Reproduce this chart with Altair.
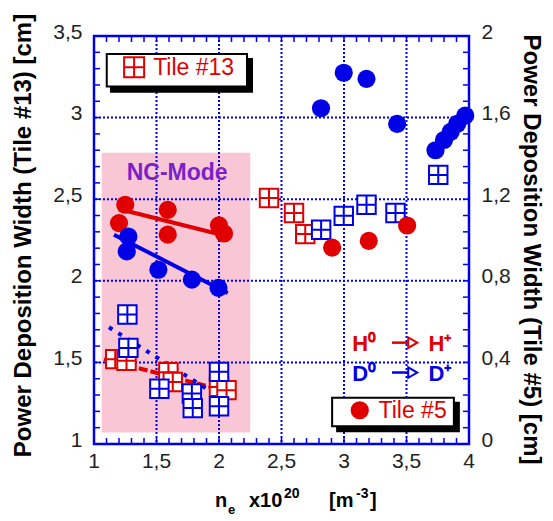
import altair as alt
import numpy as np
import pandas as pd

BLUE = "#0000e6"
RED = "#e00000"
PURPLE = "#7a22c8"
PINK = "#f9c6d5"
FONT = "Liberation Sans, Arial, sans-serif"

# ---------------- data ----------------
# Tile #13 (left axis, cm) - open grid squares
h13_x = [1.17, 1.26, 1.595, 1.63, 2.00, 2.06, 2.40, 2.60, 2.69]
h13_y = [1.52, 1.51, 1.44, 1.38, 1.35, 1.33, 2.507, 2.415, 2.286]
d13_x = [1.267, 1.275, 1.523, 1.783, 1.79, 2.0, 2.0, 2.817, 2.998, 3.18, 3.412, 3.754]
d13_y = [1.793, 1.589, 1.338, 1.31, 1.22, 1.442, 1.231, 2.313, 2.398, 2.466, 2.415, 2.649]

# Tile #5 (right axis, cm) - filled circles
h5_x = [1.20, 1.25, 1.59, 1.59, 2.00, 2.04, 2.905, 3.198, 3.505]
h5_y = [1.083, 1.173, 1.148, 1.026, 1.072, 1.032, 0.963, 0.996, 1.071]
d5_x = [1.262, 1.275, 1.515, 1.783, 1.996, 2.816, 2.998, 3.18, 3.425, 3.732, 3.80, 3.853, 3.906, 3.97]
d5_y = [0.944, 1.017, 0.854, 0.806, 0.765, 1.646, 1.82, 1.79, 1.569, 1.44, 1.49, 1.53, 1.57, 1.61]

# fit lines in NC-mode
h5_fit_x, h5_fit_y = [1.20, 2.05], [1.152, 1.021]
d5_fit_x, d5_fit_y = [1.16, 2.07], [1.026, 0.74]
h13_fit_x, h13_fit_y = [1.08, 2.13], [1.52, 1.31]
d13_fit_x, d13_fit_y = [1.12, 1.92], [1.715, 1.33]

# NC-mode region
nc_x, nc_x2, nc_y, nc_y2 = [1.062], [2.25], [1.07], [2.784]

# tick labels
x_ticks = [1, 1.5, 2, 2.5, 3, 3.5, 4]
x_labels = ["1", "1,5", "2", "2,5", "3", "3,5", "4"]
yl_ticks = [1, 1.5, 2, 2.5, 3, 3.5]
yr_ticks = [0, 0.4, 0.8, 1.2, 1.6, 2]
x_grid = [1.5, 2, 2.5, 3, 3.5]
y_grid = [1.5, 2, 2.5, 3]
x_minor = [float(v) for v in np.round(np.arange(1.1, 4.0, 0.1), 2)]
y_minor = [float(v) for v in np.round(np.arange(1.1, 3.5, 0.1), 2)]

W, H = 375, 408
xs = alt.Scale(domain=[1, 4], nice=False, zero=False)
yl = alt.Scale(domain=[1, 3.5], nice=False, zero=False)
yr = alt.Scale(domain=[0, 2], nice=False, zero=False)

LBL = "replace(toString(datum.value), '.', ',')"

yl_axis = alt.Axis(values=yl_ticks, labelExpr=LBL, labelFont=FONT, labelFontSize=21,
                   labelColor="#222", labelPadding=12, labelOffset=-4, labelFlush=False, orient="left",
                   title="Power Deposition Width (Tile #13) [cm]", titleFont=FONT, titleFontSize=24,
                   titleFontWeight="bold", titleColor="black", titleX=-71, titleY=199, titleAngle=270,
                   titleBaseline="middle", titleAlign="center", grid=False, ticks=False, domain=False)
yr_axis = alt.Axis(values=yr_ticks, labelExpr=LBL, labelFont=FONT, labelFontSize=21,
                   labelColor="#222", labelPadding=12, labelOffset=-4, labelFlush=False, orient="right",
                   title="Power Deposition Width (Tile #5) [cm]", titleFont=FONT, titleFontSize=24,
                   titleFontWeight="bold", titleColor="black", titleX=61, titleY=213, titleAngle=90,
                   titleBaseline="middle", titleAlign="center", grid=False, ticks=False, domain=False)


def X(field="x"):
    return alt.X(f"{field}:Q", scale=xs, axis=None)


def YL(field="y"):
    return alt.Y(f"{field}:Q", scale=yl, axis=None)


def YR(field="y"):
    return alt.Y(f"{field}:Q", scale=yr, axis=None)


# ---------------- layers ----------------
nc_df = pd.DataFrame({"x": nc_x, "x2": nc_x2, "y": nc_y, "y2": nc_y2})
nc_rect = alt.Chart(nc_df).mark_rect(fill=PINK).encode(
    x=X(), x2="x2:Q", y=alt.Y("y:Q", scale=yl, axis=yl_axis), y2="y2:Q")

# x tick labels (text through the x scale)
xlab = alt.Chart(pd.DataFrame({"x": x_ticks, "t": x_labels})).mark_text(
    font=FONT, fontSize=21, color="#222", baseline="middle", align="center").encode(
    x=X(), y=alt.value(H + 18), text="t:N")


# x title "n_e x10^20 [m^-3]" composed of pieces
def title_piece(txt, px, py, size):
    return alt.Chart(pd.DataFrame({"t": [txt]})).mark_text(
        font=FONT, fontSize=size, fontWeight="bold", color="black", baseline="middle", align="left").encode(
        x=alt.value(px), y=alt.value(py), text="t:N")


xtitle = [
    title_piece("n", 121, H + 57, 20),
    title_piece("e", 134, H + 66, 13),
    title_piece("x10", 155, H + 57, 20),
    title_piece("20", 190, H + 50, 14),
    title_piece("[m", 235, H + 57, 20),
    title_piece("-3", 262, H + 50, 14),
    title_piece("]", 276, H + 57, 20),
]

vgrid = alt.Chart(pd.DataFrame({"x": x_grid})).mark_rule(
    stroke=BLUE, strokeWidth=2, strokeDash=[2, 2]).encode(x=X())
hgrid = alt.Chart(pd.DataFrame({"y": y_grid})).mark_rule(
    stroke=BLUE, strokeWidth=2, strokeDash=[2, 2]).encode(y=YL())

xm = pd.DataFrame({"x": x_minor})
ym = pd.DataFrame({"y": y_minor})
tick_bottom = alt.Chart(xm).mark_rule(stroke=BLUE, strokeWidth=1.5).encode(
    x=X(), y=alt.value(H - 6), y2=alt.value(H))
tick_top = alt.Chart(xm).mark_rule(stroke=BLUE, strokeWidth=1.5).encode(
    x=X(), y=alt.value(0), y2=alt.value(6))
tick_left = alt.Chart(ym).mark_rule(stroke=BLUE, strokeWidth=1.5).encode(
    y=YL(), x=alt.value(0), x2=alt.value(6))
tick_right = alt.Chart(ym).mark_rule(stroke=BLUE, strokeWidth=1.5).encode(
    y=YL(), x=alt.value(W - 6), x2=alt.value(W))

h13_line = alt.Chart(pd.DataFrame({"x": h13_fit_x, "y": h13_fit_y})).mark_line(
    color=RED, strokeWidth=4, strokeDash=[9, 3]).encode(x=X(), y=YL())
d13_line = alt.Chart(pd.DataFrame({"x": d13_fit_x, "y": d13_fit_y})).mark_line(
    color=BLUE, strokeWidth=4, strokeDash=[4, 7]).encode(x=X(), y=YL())

SQ = "M-1,-1H1V1H-1ZM-1,0H1M0,-1V1"
h13_pts = alt.Chart(pd.DataFrame({"x": h13_x, "y": h13_y})).mark_point(
    shape=SQ, size=340, filled=True, fill="white", stroke=RED, strokeWidth=2, opacity=1).encode(x=X(), y=YL())
d13_pts = alt.Chart(pd.DataFrame({"x": d13_x, "y": d13_y})).mark_point(
    shape=SQ, size=340, filled=True, fill="white", stroke=BLUE, strokeWidth=2, opacity=1).encode(x=X(), y=YL())

h5_line = alt.Chart(pd.DataFrame({"x": h5_fit_x, "y": h5_fit_y})).mark_line(
    color=RED, strokeWidth=4).encode(x=X(), y=alt.Y("y:Q", scale=yr, axis=yr_axis))
d5_line = alt.Chart(pd.DataFrame({"x": d5_fit_x, "y": d5_fit_y})).mark_line(
    color=BLUE, strokeWidth=4).encode(x=X(), y=YR())
h5_pts = alt.Chart(pd.DataFrame({"x": h5_x, "y": h5_y})).mark_point(
    shape="circle", size=330, filled=True, color=RED, opacity=1).encode(x=X(), y=YR())
d5_pts = alt.Chart(pd.DataFrame({"x": d5_x, "y": d5_y})).mark_point(
    shape="circle", size=330, filled=True, color=BLUE, opacity=1).encode(x=X(), y=YR())

# legend boxes (in data units of the left axis)
shadow_df = pd.DataFrame({"x": [1.136, 2.945], "x2": [2.264, 3.919], "y": [3.159, 1.078], "y2": [3.359, 1.252]})
box_df = pd.DataFrame({"x": [1.102, 2.905], "x2": [2.224, 3.879], "y": [3.190, 1.109], "y2": [3.390, 1.283]})
shadows = alt.Chart(shadow_df).mark_rect(fill="black", stroke="black", strokeWidth=2).encode(
    x=X(), x2="x2:Q", y=YL(), y2="y2:Q")
boxes = alt.Chart(box_df).mark_rect(fill="white", stroke="black", strokeWidth=2).encode(
    x=X(), x2="x2:Q", y=YL(), y2="y2:Q")

leg_sq = alt.Chart(pd.DataFrame({"x": [1.321], "y": [3.308]})).mark_point(
    shape=SQ, size=400, filled=True, fill="white", stroke=RED, strokeWidth=2, opacity=1).encode(x=X(), y=YL())
leg_circ = alt.Chart(pd.DataFrame({"x": [3.126], "y": [1.207]})).mark_point(
    shape="circle", size=330, filled=True, color=RED, opacity=1).encode(x=X(), y=YL())
leg_txt = alt.Chart(pd.DataFrame({"x": [1.473, 3.276], "y": [3.308, 1.207], "t": ["Tile #13", "Tile #5"]})).mark_text(
    align="left", baseline="middle", font=FONT, fontSize=23, color=RED, dy=1).encode(x=X(), y=YL(), text="t:N")

# H/D annotation
h_txt = alt.Chart(pd.DataFrame({"x": [3.065, 3.676], "y": [1.621, 1.621], "t": ["H⁰", "H⁺"]})).mark_text(
    align="left", baseline="middle", font=FONT, fontSize=22, fontWeight="bold", color=RED, dy=1).encode(
    x=X(), y=YL(), text="t:N")
d_txt = alt.Chart(pd.DataFrame({"x": [3.065, 3.676], "y": [1.438, 1.438], "t": ["D⁰", "D⁺"]})).mark_text(
    align="left", baseline="middle", font=FONT, fontSize=22, fontWeight="bold", color=BLUE, dy=1).encode(
    x=X(), y=YL(), text="t:N")
h_arr = alt.Chart(pd.DataFrame({"x": [3.384], "x2": [3.53], "y": [1.621]})).mark_rule(
    strokeWidth=2.5, color=RED).encode(x=X(), x2="x2:Q", y=YL())
d_arr = alt.Chart(pd.DataFrame({"x": [3.384], "x2": [3.53], "y": [1.438]})).mark_rule(
    strokeWidth=2.5, color=BLUE).encode(x=X(), x2="x2:Q", y=YL())
h_head = alt.Chart(pd.DataFrame({"x": [3.55], "y": [1.621]})).mark_point(
    shape="triangle-right", size=110, filled=True, fill="white", stroke=RED, strokeWidth=2, opacity=1).encode(
    x=X(), y=YL())
d_head = alt.Chart(pd.DataFrame({"x": [3.55], "y": [1.438]})).mark_point(
    shape="triangle-right", size=110, filled=True, fill="white", stroke=BLUE, strokeWidth=2, opacity=1).encode(
    x=X(), y=YL())

nc_txt = alt.Chart(pd.DataFrame({"x": [1.665], "y": [2.662], "t": ["NC-Mode"]})).mark_text(
    align="center", baseline="middle", font=FONT, fontSize=23, fontWeight="bold", color=PURPLE).encode(
    x=X(), y=YL(), text="t:N")

chart = alt.layer(
    nc_rect, vgrid, hgrid, tick_bottom, tick_top, tick_left, tick_right,
    h13_line, d13_line, h5_line, d5_line, h13_pts, d13_pts, h5_pts, d5_pts,
    shadows, boxes, leg_sq, leg_circ, leg_txt,
    h_arr, d_arr, h_head, d_head, h_txt, d_txt, nc_txt, xlab, *xtitle,
).resolve_scale(y="independent").properties(
    width=W, height=H,
    autosize=alt.AutoSizeParams(type="none"),
    padding={"left": 94, "top": 36, "right": 84, "bottom": 77},
    background="white",
).configure_view(stroke=BLUE, strokeWidth=2.5)

chart.save("out.html", embed_options={"renderer": "svg", "actions": False})
